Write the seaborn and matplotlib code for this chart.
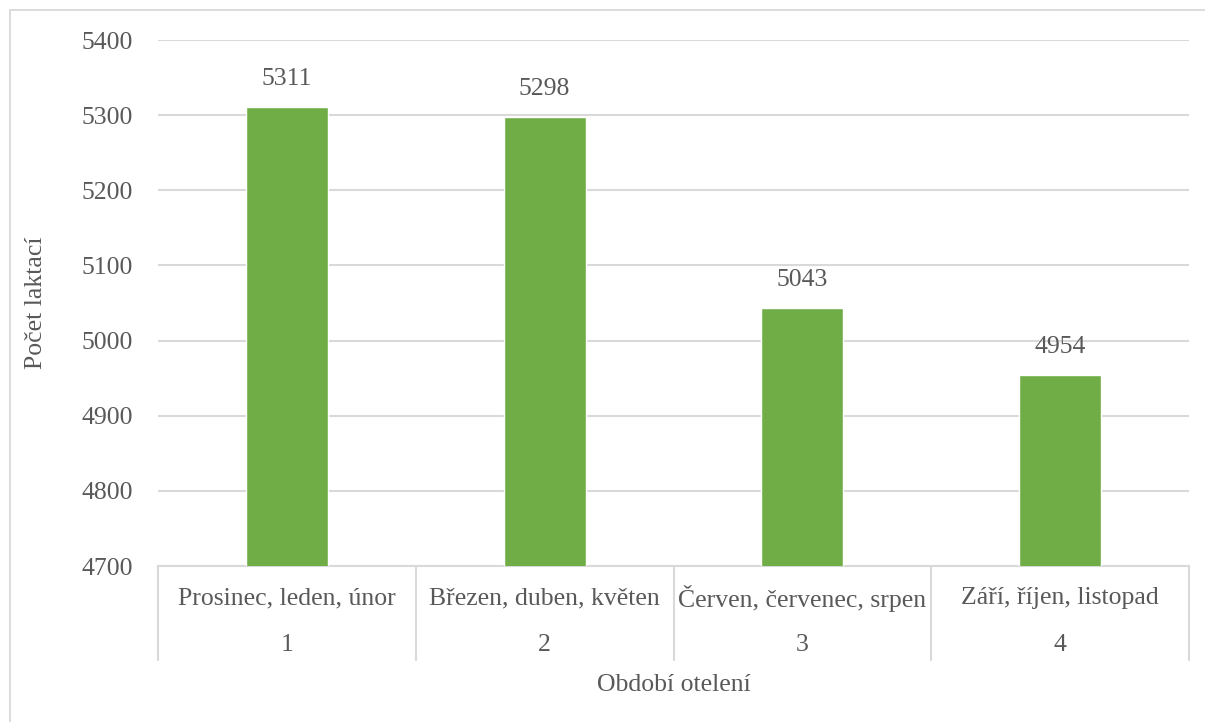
import matplotlib
matplotlib.use("Agg")
import matplotlib.pyplot as plt
from matplotlib.patches import Rectangle
from matplotlib.lines import Line2D
import seaborn as sns
import pandas as pd

# Calving periods and lactation counts
period_names = ["Prosinec, leden, únor", "Březen, duben, květen",
                "Červen, červenec, srpen", "Září, říjen, listopad"]
period_codes = ["1", "2", "3", "4"]
lactations = [5311, 5298, 5043, 4954]
y_ticks = [4700, 4800, 4900, 5000, 5100, 5200, 5300, 5400]

TEXT = "#595959"
GRID = "#D9D9D9"
GREEN = "#70AD47"
FS = 18.5

sns.set_theme(style="white")
plt.rcParams["font.family"] = ["Liberation Serif", "DejaVu Serif"]

W, H = 1205, 722
fig = plt.figure(figsize=(W / 100, H / 100), dpi=100)

# outer chart frame
fig.patches.append(Rectangle((10 / W, -0.1), 1.2, 1 - 10 / H + 0.1,
                             transform=fig.transFigure, fill=False,
                             edgecolor=GRID, linewidth=1.3))

left, right, top, bottom = 158, 1189, 40, 566
ax = fig.add_axes([left / W, 1 - bottom / H, (right - left) / W, (bottom - top) / H])

df = pd.DataFrame({"period": period_names, "count": lactations})
sns.barplot(data=df, x="period", y="count", color=GREEN, saturation=1,
            width=0.318, ax=ax, zorder=3)

ax.set_xlim(-0.5, len(period_names) - 0.5)
ax.set_ylim(y_ticks[0], y_ticks[-1])
ax.set_yticks(y_ticks)
ax.set_yticklabels([str(t) for t in y_ticks], color=TEXT, fontsize=FS)
ax.tick_params(axis="y", length=0, pad=18)
ax.set_xticks([])
ax.set_xlabel("")
ax.set_ylabel("Počet laktací", color=TEXT, fontsize=FS)
ax.yaxis.set_label_coords(-(left - 47) / (right - left), 0.5)

ax.grid(axis="y", color=GRID, linewidth=1.5, zorder=0)
for side in ["top", "right", "left"]:
    ax.spines[side].set_visible(False)
ax.spines["bottom"].set_color(GRID)
ax.spines["bottom"].set_linewidth(1.5)

# value labels above bars
for i, v in enumerate(lactations):
    ax.annotate(str(v), xy=(i, v), xytext=(0, 20), textcoords="offset points",
                ha="center", va="center", color=TEXT, fontsize=FS)

# two-level category axis drawn as a table below the plot
tr = ax.get_xaxis_transform()
ph = bottom - top
y_row1 = -(598 - bottom) / ph
y_row2 = -(645 - bottom) / ph
y_sep_end = -(660 - bottom) / ph
for i, (name, code) in enumerate(zip(period_names, period_codes)):
    ax.text(i, y_row1, name, transform=tr, ha="center", va="center",
            color=TEXT, fontsize=FS, clip_on=False)
    ax.text(i, y_row2, code, transform=tr, ha="center", va="center",
            color=TEXT, fontsize=FS, clip_on=False)
for b in [k - 0.5 for k in range(len(period_names) + 1)]:
    ax.add_line(Line2D([b, b], [0, y_sep_end], transform=tr, color=GRID,
                       linewidth=1.5, clip_on=False))

ax.text(0.5, -(685 - bottom) / ph, "Období otelení", transform=ax.transAxes,
        ha="center", va="center", color=TEXT, fontsize=FS)

fig.savefig("out.png", dpi=100)
